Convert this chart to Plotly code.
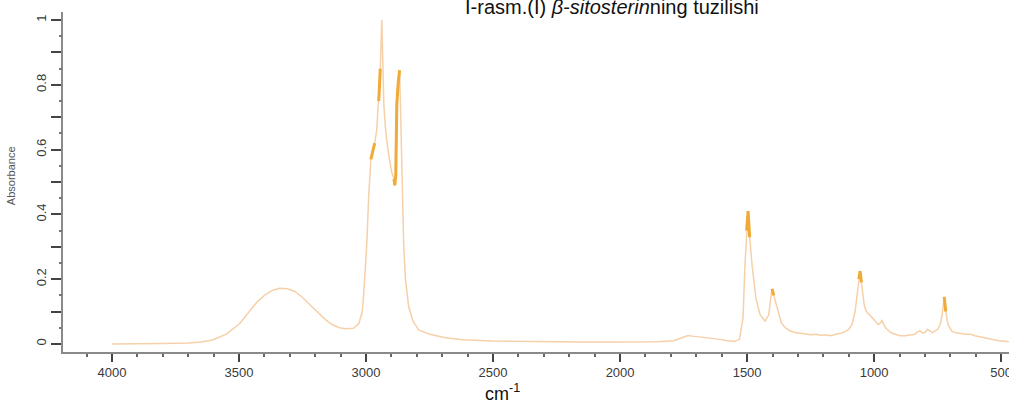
import plotly.graph_objects as go

# ---- data ----
wavenumber = [4000, 3900, 3800, 3700, 3650, 3604, 3550, 3498, 3460, 3432, 3400, 3370, 3340, 3310,
              3280, 3252, 3220, 3185, 3160, 3134, 3105, 3080, 3050, 3028, 3015, 3009, 3003, 2997,
              2990, 2981, 2972, 2966, 2958, 2950, 2944, 2938, 2934, 2930, 2925, 2919, 2910, 2899,
              2890, 2887, 2883, 2879, 2873, 2868, 2864, 2860, 2856, 2852, 2845, 2838, 2832, 2815,
              2793, 2750, 2687, 2620, 2558, 2500, 2429, 2350, 2250, 2150, 2050, 1950, 1850, 1790,
              1764, 1745, 1732, 1715, 1690, 1660, 1630, 1606, 1580, 1547, 1530, 1516, 1508, 1502,
              1496, 1490, 1480, 1465, 1449, 1429, 1415, 1402, 1395, 1378, 1365, 1350, 1330, 1311,
              1290, 1270, 1250, 1230, 1210, 1190, 1173, 1150, 1130, 1114, 1100, 1087, 1075, 1067,
              1060, 1055, 1050, 1045, 1039, 1030, 1024, 1015, 1004, 995, 984, 975, 969, 962,
              955, 949, 935, 917, 898, 878, 860, 839, 829, 819, 809, 799, 790, 780,
              770, 760, 750, 740, 732, 724, 718, 709, 695, 681, 660, 642, 620, 603,
              570, 543, 510, 484, 470]
absorbance = [0.0, 0.0, 0.001, 0.003, 0.006, 0.012, 0.03, 0.062, 0.1, 0.127, 0.15, 0.165, 0.172, 0.17,
              0.162, 0.145, 0.12, 0.095, 0.075, 0.06, 0.05, 0.047, 0.048, 0.063, 0.1, 0.157, 0.23, 0.31,
              0.45, 0.57, 0.6, 0.62, 0.66, 0.75, 0.85, 1.0, 0.82, 0.74, 0.68, 0.63, 0.58, 0.53,
              0.51, 0.49, 0.52, 0.74, 0.81, 0.845, 0.72, 0.54, 0.41, 0.31, 0.2, 0.145, 0.114, 0.07,
              0.043, 0.03, 0.019, 0.013, 0.01, 0.009, 0.008, 0.007, 0.006, 0.006, 0.006, 0.006, 0.007, 0.01,
              0.017, 0.024, 0.026, 0.024, 0.022, 0.02, 0.017, 0.014, 0.01, 0.008, 0.015, 0.08, 0.25, 0.35,
              0.41, 0.33, 0.24, 0.14, 0.09, 0.07, 0.09, 0.17, 0.15, 0.1, 0.065, 0.05, 0.04, 0.035,
              0.032, 0.03, 0.028, 0.03, 0.027, 0.028, 0.025, 0.03, 0.033, 0.038, 0.045, 0.06, 0.1, 0.15,
              0.2, 0.225, 0.19, 0.15, 0.12, 0.1, 0.095, 0.09, 0.08, 0.07, 0.06, 0.065, 0.072, 0.06,
              0.05, 0.045, 0.035, 0.03, 0.025, 0.025, 0.028, 0.03, 0.038, 0.04, 0.033, 0.036, 0.045, 0.04,
              0.035, 0.04, 0.045, 0.06, 0.09, 0.145, 0.1, 0.06, 0.04, 0.035, 0.032, 0.03, 0.03, 0.025,
              0.02, 0.015, 0.01, 0.008, 0.007]

# wavenumber ranges drawn darker (peak tops)
highlight_ranges = [(2985, 2960), (2952, 2940), (2892, 2882), (2880, 2866),
                    (1503, 1490), (1408, 1395), (1060, 1050), (728, 718)]

x_ticks = [4000, 3500, 3000, 2500, 2000, 1500, 1000, 500]
y_ticks = [0, 0.2, 0.4, 0.6, 0.8, 1.0]
y_tick_text = ["0", "0.2", "0.4", "0.6", "0.8", "1"]

title_html = "I-rasm.(I) <i>β-sitosterin</i>ning tuzilishi"

# ---- figure ----
hl = [v if any(a >= w >= b for a, b in highlight_ranges) else None
      for w, v in zip(wavenumber, absorbance)]

fig = go.Figure()
fig.add_trace(go.Scatter(x=wavenumber, y=absorbance, mode="lines",
                         line=dict(color="rgb(246,208,168)", width=1.5),
                         showlegend=False, hoverinfo="skip"))
fig.add_trace(go.Scatter(x=wavenumber, y=hl, mode="lines", connectgaps=False,
                         line=dict(color="rgb(240,170,55)", width=3),
                         showlegend=False, hoverinfo="skip"))
# invisible trace for secondary (small tick) axis
fig.add_trace(go.Scatter(x=[wavenumber[0]], y=[0], yaxis="y2", mode="markers",
                         marker=dict(opacity=0), showlegend=False, hoverinfo="skip"))

tick_font = dict(family="Liberation Sans, Arial, sans-serif", size=13, color="#3a3a3a")

fig.update_layout(
    width=1009, height=413,
    margin=dict(l=63, r=0, t=12, b=61),
    paper_bgcolor="white", plot_bgcolor="white",
    xaxis=dict(range=[4193, 469], showgrid=False, zeroline=False, automargin=False,
               showline=True, linecolor="#8a8a8a", linewidth=1.5,
               tickvals=x_ticks, ticks="outside", ticklen=8, tickwidth=2, tickcolor="#444",
               tickfont=tick_font, ticklabeloverflow="allow",
               minor=dict(dtick=100, ticks="outside", ticklen=3, tickwidth=1.5, tickcolor="#666")),
    yaxis=dict(range=[-0.025, 1.025], showgrid=False, zeroline=False, automargin=False,
               showline=True, linecolor="#8a8a8a", linewidth=1.5,
               tickvals=y_ticks, ticktext=y_tick_text, tickangle=-90,
               ticks="outside", ticklen=10, tickwidth=2, tickcolor="#444",
               tickfont=tick_font, ticklabeloverflow="allow",
               minor=dict(dtick=0.1, ticks="outside", ticklen=10, tickwidth=2, tickcolor="#444")),
    yaxis2=dict(range=[-0.025, 1.025], overlaying="y", side="left", showgrid=False,
                zeroline=False, showline=False, showticklabels=False, automargin=False,
                tickvals=[i * 0.1 + 0.05 for i in range(10)],
                ticks="outside", ticklen=3, tickwidth=1.5, tickcolor="#777"),
    annotations=[
        dict(text=title_html, xref="paper", yref="paper", x=0.58, y=1.016,
             xanchor="center", yanchor="middle", showarrow=False,
             font=dict(family="Liberation Sans, Arial, sans-serif", size=20, color="#111")),
        dict(text="cm<sup>-1</sup>", xref="paper", yref="paper", x=0.465, y=-0.12,
             xanchor="center", yanchor="middle", showarrow=False,
             font=dict(family="Liberation Sans, Arial, sans-serif", size=18, color="#111")),
        dict(text="Absorbance", xref="paper", yref="paper", x=-0.055, y=0.52,
             xanchor="center", yanchor="middle", showarrow=False, textangle=-90,
             font=dict(family="Liberation Sans, Arial, sans-serif", size=11, color="#555")),
    ],
)

fig.write_html("out.html", config={"displayModeBar": False},
               post_script="document.body.style.margin='0';")
